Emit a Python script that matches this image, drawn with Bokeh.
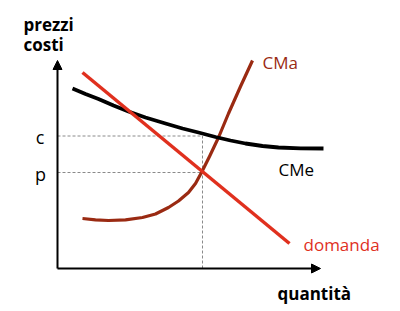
from bokeh.plotting import figure
from bokeh.models import Range1d, Arrow, NormalHead
from bokeh.core.properties import value
from bokeh.embed import file_html
from bokeh.resources import INLINE

# Demand curve (quantity, price)
demand_q = [2.5, 23.2]
demand_p = [19.6, 2.5]

# Average cost curve CMe
cme_q = [1.5, 2.8, 4.1, 5.6, 7.1, 8.8, 10.8, 12.5, 14.1, 15.8, 17.3, 18.8, 20.5, 22.1, 24.3, 26.6]
cme_p = [18.0, 17.45, 16.95, 16.3, 15.7, 15.1, 14.5, 14.0, 13.6, 13.15, 12.8, 12.5, 12.25, 12.1, 12.02, 12.0]

# Marginal cost curve CMa
cma_q = [2.5, 3.8, 5.1, 6.8, 8.5, 9.8, 11.1, 12.1, 13.1, 13.8, 14.4, 15.2, 16.1, 17.1, 18.3, 19.5]
cma_p = [5.0, 4.87, 4.8, 4.87, 5.1, 5.45, 6.1, 6.75, 7.6, 8.5, 9.6, 11.2, 13.1, 15.5, 18.2, 20.8]

# Equilibrium references
q_star = 14.5
price_c = 13.25
price_p = 9.6

RED = "#e0301e"
DARK_RED = "#9a2a12"
FONT = value("Open Sans")

p = figure(width=400, height=311, output_backend="svg", toolbar_location=None,
           x_range=Range1d(-5.7, 34.3), y_range=Range1d(-4.3, 26.8),
           min_border=0, min_border_left=0, min_border_right=0,
           min_border_top=0, min_border_bottom=0)
p.axis.visible = False
p.grid.visible = False
p.outline_line_color = None
p.background_fill_color = "white"
p.border_fill_color = "white"

# dashed guides
p.line([0, q_star], [price_c, price_c], line_color="#8a8a8a", line_width=1, line_dash="3 2")
p.line([0, q_star], [price_p, price_p], line_color="#8a8a8a", line_width=1, line_dash="3 2")
p.line([q_star, q_star], [0, price_c], line_color="#8a8a8a", line_width=1, line_dash="3 2")

# curves
p.line(cma_q, cma_p, line_color=DARK_RED, line_width=3.2, line_join="round")
p.line(cme_q, cme_p, line_color="black", line_width=3.8, line_join="round")
p.line(demand_q, demand_p, line_color=RED, line_width=3.5)

# axes with arrows
p.add_layout(Arrow(x_start=0, y_start=0, x_end=0, y_end=20.8, line_width=2, line_color="black",
                   end=NormalHead(size=9, fill_color="black", line_color="black")))
p.add_layout(Arrow(x_start=0, y_start=0, x_end=26.3, y_end=0, line_width=2, line_color="black",
                   end=NormalHead(size=9, fill_color="black", line_color="black")))

# labels
p.text(x=[-3.4, -3.4], y=[24.4, 22.4], text=["prezzi", "costi"], text_font=FONT,
       text_font_style="bold", text_font_size="17px", text_color="black",
       text_baseline="middle", text_align="left")
p.text(x=[22.0], y=[-2.5], text=["quantità"], text_font=FONT,
       text_font_style="bold", text_font_size="17px", text_color="black",
       text_baseline="middle", text_align="left")
p.text(x=[-1.75, -1.7], y=[13.15, 9.5], text=["c", "p"], text_font=FONT,
       text_font_size="18px", text_color="black", text_baseline="middle", text_align="center")
p.text(x=[20.5], y=[20.6], text=["CMa"], text_font=FONT, text_font_size="17px",
       text_color=DARK_RED, text_baseline="middle", text_align="left")
p.text(x=[22.1], y=[9.9], text=["CMe"], text_font=FONT, text_font_size="17px",
       text_color="black", text_baseline="middle", text_align="left")
p.text(x=[24.6], y=[2.4], text=["domanda"], text_font=FONT, text_font_size="17px",
       text_color=RED, text_baseline="middle", text_align="left")

open("out.html", "w").write(file_html(p, INLINE))
